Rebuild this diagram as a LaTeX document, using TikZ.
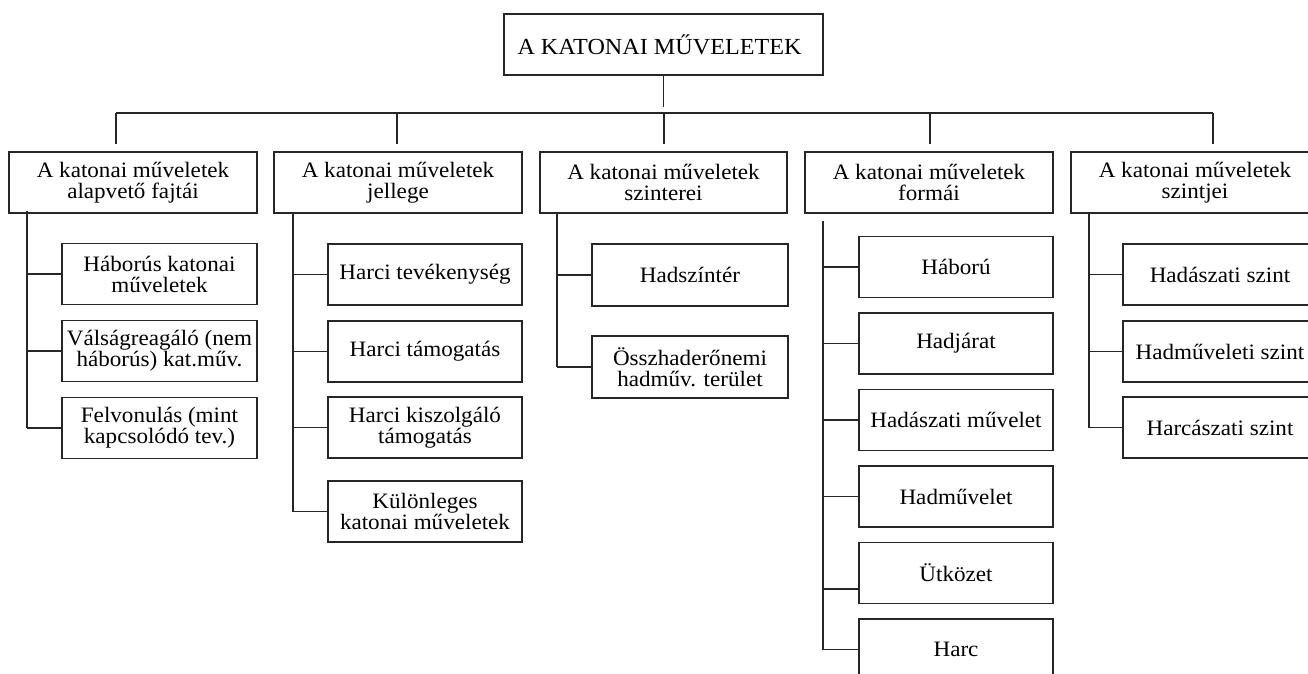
\documentclass[tikz,border=0pt]{standalone}
\usepackage{fontspec}
\setmainfont{Liberation Serif}[FakeStretch=1.05]
\begin{document}
\begin{tikzpicture}[x=1pt,y=-1pt,
  wire/.style={draw=black!85, line width=1.3pt},
  box/.style={draw=black!85, line width=1.3pt, align=center, inner sep=0pt,
    font=\fontsize{22}{21}\selectfont},
  topbox/.style={box, minimum width=319pt, minimum height=61pt, font=\fontsize{23}{22}\selectfont},
  headbox/.style={box, minimum width=248pt, minimum height=61pt},
  kidbox/.style={box, minimum width=195pt, minimum height=61pt}]
\useasboundingbox (0,0) rectangle (1308,674);
\clip (0,0) rectangle (1308,674);
\fill[white] (0,0) rectangle (1308,674);
% title
\node[topbox] (top) at (663.5,44.5) {\hspace*{-8pt}A KATONAI MŰVELETEK};
% headings
\node[headbox] (h1) at (133,182.5) {A katonai műveletek\\alapvető fajtái};
\node[headbox] (h2) at (398,182.5) {A katonai műveletek\\jellege};
\node[headbox, minimum width=247pt] (h3) at (663.5,182.5) {A katonai műveletek\\szinterei};
\node[headbox] (h4) at (929,182.5) {A katonai műveletek\\formái};
\node[headbox] (h5) at (1195,182.5) {A katonai műveletek\\szintjei};
% bus
\coordinate (tb) at (663.5,107);
\coordinate (busL) at (116,113);
\coordinate (busR) at (1213,113);
\coordinate (d1) at (116,144);
\coordinate (d2) at (397,144);
\coordinate (d3) at (664,144);
\coordinate (d4) at (930,144);
\coordinate (d5) at (1213,144);
\draw[wire] (top.south) -- (tb);
\draw[wire] (busL) -- (busR);
\foreach \d in {d1,d2,d3,d4,d5} \draw[wire] (\d |- busL) -- (\d);
% column 1
\node[kidbox] (c1a) at (159.5,274) {Háborús katonai\\műveletek};
\node[kidbox] (c1b) at (159.5,351) {Válságreagáló (nem\\háborús) kat.műv.};
\node[kidbox] (c1c) at (159.5,428) {Felvonulás (mint\\kapcsolódó tev.)};
\coordinate (b1) at (27,211);
\draw[wire] (b1) -- (b1 |- c1c.west);
\foreach \c in {c1a,c1b,c1c} \draw[wire] (b1 |- \c.west) -- (\c.west);
% column 2
\node[kidbox, minimum width=194pt] (c2a) at (425,274.5) {Harci tevékenység};
\node[kidbox, minimum width=194pt] (c2b) at (425,351.5) {Harci támogatás};
\node[kidbox, minimum width=194pt] (c2c) at (425,427.5) {Harci kiszolgáló\\támogatás};
\node[kidbox, minimum width=194pt] (c2d) at (425,511.5) {Különleges\\katonai műveletek};
\coordinate (b2) at (293,213);
\draw[wire] (b2) -- (b2 |- c2d.west);
\foreach \c in {c2a,c2b,c2c,c2d} \draw[wire] (b2 |- \c.west) -- (\c.west);
% column 3
\node[kidbox, minimum width=196pt, minimum height=62pt] (c3a) at (690,275) {Hadszíntér};
\node[kidbox, minimum width=196pt, minimum height=62pt] (c3b) at (690,367) {Összhaderőnemi\\hadműv. terület};
\coordinate (b3) at (557,213);
\draw[wire] (b3) -- (b3 |- c3b.west);
\foreach \c in {c3a,c3b} \draw[wire] (b3 |- \c.west) -- (\c.west);
% column 4
\node[kidbox, minimum width=194pt] (c4a) at (956,267) {Háború};
\node[kidbox, minimum width=194pt] (c4b) at (956,343.5) {Hadjárat};
\node[kidbox, minimum width=194pt] (c4c) at (956,420) {Hadászati művelet};
\node[kidbox, minimum width=194pt] (c4d) at (956,496.5) {Hadművelet};
\node[kidbox, minimum width=194pt] (c4e) at (956,573) {Ütközet};
\node[kidbox, minimum width=194pt] (c4f) at (956,649.5) {Harc};
\coordinate (b4) at (823,221);
\draw[wire] (b4) -- (b4 |- c4f.west);
\foreach \c in {c4a,c4b,c4c,c4d,c4f} \draw[wire] (b4 |- \c.west) -- (\c.west);
\draw[wire] ([yshift=-16pt]c4e.west -| b4) -- ([yshift=-16pt]c4e.west);
% column 5
\node[kidbox, minimum width=194pt] (c5a) at (1220,274.5) {Hadászati szint};
\node[kidbox, minimum width=194pt] (c5b) at (1220,351.5) {Hadműveleti szint};
\node[kidbox, minimum width=194pt] (c5c) at (1220,427.5) {Harcászati szint};
\coordinate (b5) at (1089,213);
\draw[wire] (b5) -- (b5 |- c5c.west);
\foreach \c in {c5a,c5b,c5c} \draw[wire] (b5 |- \c.west) -- (\c.west);
\end{tikzpicture}
\end{document}
